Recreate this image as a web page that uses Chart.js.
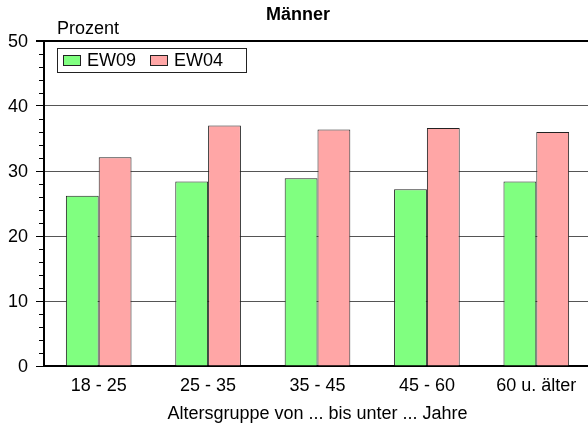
<!DOCTYPE html>
<html>
<head>
<meta charset="utf-8">
<script src="https://cdn.jsdelivr.net/npm/chart.js@4.4.1/dist/chart.umd.min.js"></script>
<style>
  html, body { margin: 0; padding: 0; background: #fff; overflow: hidden; }
  #wrap { position: relative; width: 591px; height: 430px; }
</style>
</head>
<body>
<div id="wrap"><canvas id="c"></canvas></div>
<script>
const categories = ["18 - 25", "25 - 35", "35 - 45", "45 - 60", "60 u. älter"];
const seriesNames = ["EW09", "EW04"];
const ew09 = [26.2, 28.4, 28.9, 27.2, 28.4];
const ew04 = [32.1, 37.0, 36.4, 36.6, 36.0];
const yTicks = [0, 10, 20, 30, 40, 50];
const chartTitle = "Männer";
const yTitle = "Prozent";
const xTitle = "Altersgruppe von ... bis unter ... Jahre";

const FONT = "'Liberation Sans', Arial, sans-serif";
const FS = 18;

const extras = {
  id: 'extras',
  afterDraw(chart) {
    const ctx = chart.ctx;
    const ca = chart.chartArea;
    const y = chart.scales.y;
    ctx.save();
    // minor ticks
    ctx.strokeStyle = '#000';
    ctx.lineWidth = 1;
    for (let v = 2; v < 50; v += 2) {
      if (v % 10 === 0) continue;
      const py = Math.round(y.getPixelForValue(v)) + 0.5;
      ctx.beginPath();
      ctx.moveTo(ca.left - 5, py);
      ctx.lineTo(ca.left, py);
      ctx.stroke();
    }
    // title
    ctx.fillStyle = '#000';
    ctx.font = "bold 18px " + FONT;
    ctx.textAlign = 'center';
    ctx.textBaseline = 'alphabetic';
    ctx.fillText(chartTitle, 298, 20);
    // y title
    ctx.font = FS + "px " + FONT;
    ctx.textAlign = 'left';
    ctx.fillText(yTitle, 57, 34);
    // legend
    const lx = 57, ly = 48, lw = 189, lh = 24;
    ctx.fillStyle = '#fff';
    ctx.fillRect(lx, ly, lw, lh);
    ctx.strokeStyle = '#222';
    ctx.lineWidth = 1;
    ctx.strokeRect(lx + 0.5, ly + 0.5, lw, lh);
    const items = chart.data.datasets;
    const xs = [63, 150];
    items.forEach((ds, i) => {
      ctx.fillStyle = ds.backgroundColor;
      ctx.fillRect(xs[i], 55, 17, 10);
      ctx.strokeStyle = '#222';
      ctx.strokeRect(xs[i] + 0.5, 55.5, 17, 10);
      ctx.fillStyle = '#000';
      ctx.font = FS + "px " + FONT;
      ctx.textBaseline = 'middle';
      ctx.fillText(ds.label, xs[i] + 24, 61);
    });
    ctx.restore();
  }
};

new Chart(document.getElementById('c'), {
  type: 'bar',
  data: {
    labels: categories,
    datasets: [
      { label: seriesNames[0], data: ew09, backgroundColor: '#80ff80', borderColor: '#222', borderWidth: 1 },
      { label: seriesNames[1], data: ew04, backgroundColor: '#ffa6a6', borderColor: '#222', borderWidth: 1 }
    ]
  },
  options: {
    responsive: true,
    maintainAspectRatio: false,
    animation: false,
    layout: { padding: { top: 41, right: 0, left: 0, bottom: 0 } },
    plugins: {
      legend: { display: false },
      title: { display: false },
      tooltip: { enabled: false }
    },
    datasets: { bar: { categoryPercentage: 0.6, barPercentage: 1.0 } },
    scales: {
      x: {
        grid: { display: false, drawTicks: false },
        border: { display: true, color: '#000', width: 2 },
        ticks: { color: '#000', font: { family: FONT, size: FS }, padding: 9, maxRotation: 0 },
        title: { display: true, text: xTitle, color: '#000', font: { family: FONT, size: FS }, padding: { top: 0, bottom: 5 } },
        afterFit(scale) { scale.height = 64; }
      },
      y: {
        min: 0, max: 50,
        afterBuildTicks(scale) { scale.ticks = yTicks.map(v => ({ value: v })); },
        grid: {
          color: ctx => (ctx.tick && ctx.tick.value === 50) ? '#000' : '#555',
          lineWidth: ctx => (ctx.tick && ctx.tick.value === 50) ? 2 : 1,
          tickColor: '#000',
          tickLength: 8,
          drawTicks: true
        },
        border: { display: true, color: '#000', width: 2 },
        ticks: { color: '#000', font: { family: FONT, size: FS }, padding: 8, labelOffset: 1 },
        afterFit(scale) { scale.width = 44; }
      }
    }
  },
  plugins: [extras]
});
</script>
</body>
</html>
